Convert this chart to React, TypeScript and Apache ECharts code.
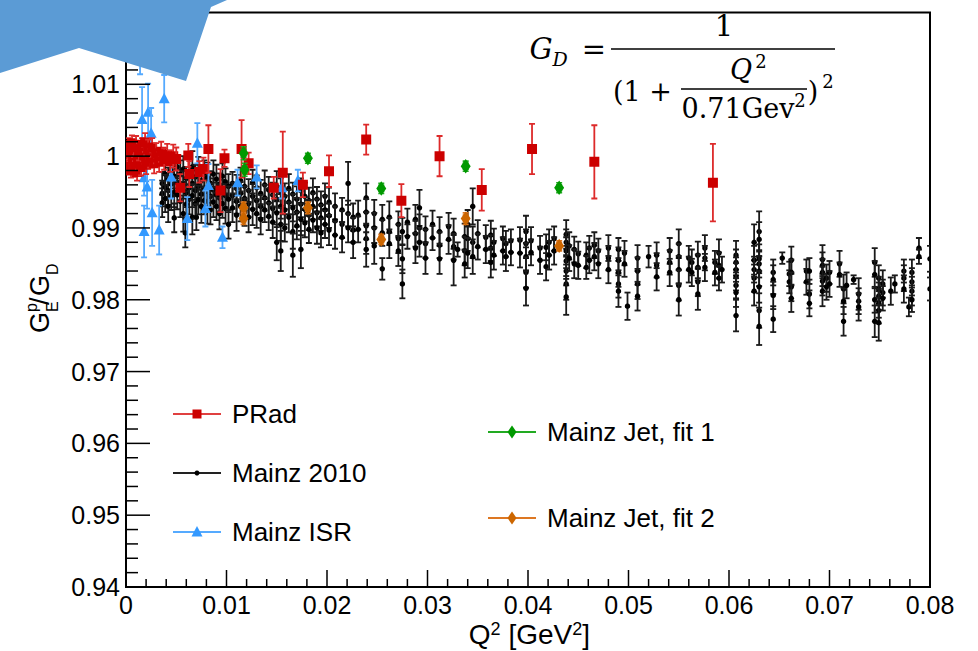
import React, { useEffect, useRef } from "react";
import * as echarts from "echarts";

// [Q2, GE/GD, error]
const pradData: number[][] = [
  [0.0001, 1.0, 0.0009], [0.0002, 1.0015, 0.001], [0.0003, 0.9985, 0.001], [0.0004, 1.0008, 0.0011],
  [0.0005, 0.998, 0.001], [0.0006, 1.0018, 0.0011], [0.0007, 0.9995, 0.001], [0.0008, 1.001, 0.0011],
  [0.0009, 0.9982, 0.0011], [0.001, 1.0016, 0.0012], [0.0011, 0.9978, 0.0012], [0.0012, 0.9992, 0.0011],
  [0.0013, 1.0006, 0.0012], [0.0015, 0.9985, 0.0012], [0.0016, 1.0013, 0.0012], [0.0018, 1.0001, 0.0012],
  [0.0019, 1.0019, 0.0013], [0.002, 0.9988, 0.0013], [0.0022, 1.001, 0.0013], [0.0024, 0.9997, 0.0013],
  [0.0026, 1.0012, 0.0013], [0.0028, 0.999, 0.0014], [0.003, 1.0004, 0.0014], [0.0033, 0.9992, 0.0014],
  [0.0035, 1.0006, 0.0014], [0.0038, 0.9996, 0.0015], [0.0041, 1.0002, 0.0015], [0.0044, 0.9993, 0.0015],
  [0.0047, 1.0, 0.0016], [0.005, 0.9996, 0.0016],
  [0.0054, 0.9956, 0.0019], [0.0062, 1.0001, 0.0016], [0.0063, 0.9975, 0.0018], [0.0073, 0.9978, 0.0015],
  [0.0077, 0.9982, 0.0016], [0.0082, 1.001, 0.0033], [0.0094, 0.9952, 0.003], [0.0098, 0.9997, 0.0012],
  [0.0115, 1.001, 0.004], [0.0122, 0.999, 0.0015], [0.0147, 0.9956, 0.0015], [0.0156, 0.9977, 0.0057],
  [0.0176, 0.996, 0.0017], [0.0202, 0.9979, 0.0022], [0.0239, 1.0023, 0.0021], [0.0274, 0.9938, 0.0023],
  [0.0312, 1.0, 0.0028], [0.0354, 0.9953, 0.0029], [0.0404, 1.001, 0.0035], [0.0466, 0.9992, 0.0051],
  [0.0584, 0.9963, 0.0054],
];

const isrData: number[][] = [
  [0.0014, 1.0146, 0.0032], [0.0016, 1.0051, 0.0045], [0.0022, 1.0061, 0.004], [0.0025, 1.0032, 0.0035],
  [0.0038, 1.008, 0.0033], [0.0018, 0.997, 0.0025], [0.0021, 0.9957, 0.003], [0.0018, 0.9895, 0.0036],
  [0.0026, 0.9921, 0.0046], [0.0033, 0.9897, 0.0034], [0.0045, 0.9971, 0.003], [0.0061, 0.9913, 0.003],
  [0.0071, 1.0018, 0.0028], [0.0079, 0.9927, 0.0025], [0.0082, 0.9959, 0.003], [0.0096, 0.9887, 0.0015],
  [0.0111, 0.9963, 0.0018], [0.013, 0.9971, 0.0016], [0.0155, 0.9956, 0.0015], [0.0171, 0.9966, 0.0015],
];

const jetFit1Data: number[][] = [
  [0.0117, 1.0004, 0.0009], [0.0118, 0.9981, 0.0009], [0.0181, 0.9997, 0.0007],
  [0.0254, 0.9955, 0.0007], [0.0338, 0.9986, 0.0007], [0.0431, 0.9956, 0.0007],
];

const jetFit2Data: number[][] = [
  [0.0117, 0.9928, 0.0008], [0.0117, 0.9913, 0.0008], [0.0181, 0.9928, 0.0008],
  [0.0254, 0.9884, 0.0007], [0.0338, 0.9913, 0.0008], [0.0431, 0.9875, 0.0007],
];

const mainz2010Data: number[][] = [
  [0.0036, 0.9962, 0.0016], [0.0036, 0.9948, 0.0018], [0.0036, 0.9935, 0.002],
  [0.0039, 0.9975, 0.0015], [0.0039, 0.9957, 0.0017], [0.0039, 0.9941, 0.0019],
  [0.0042, 0.9968, 0.0016], [0.0042, 0.9952, 0.002], [0.0042, 0.993, 0.0022],
  [0.0045, 0.998, 0.0018], [0.0045, 0.9961, 0.0016], [0.0045, 0.9944, 0.0019],
  [0.0048, 0.9972, 0.0017], [0.0048, 0.995, 0.0021], [0.0048, 0.9914, 0.002],
  [0.0051, 0.9985, 0.0016], [0.0051, 0.9963, 0.0018], [0.0051, 0.9946, 0.002],
  [0.0054, 0.9975, 0.0019], [0.0054, 0.9955, 0.0017], [0.0054, 0.9937, 0.0022],
  [0.0057, 0.9982, 0.0018], [0.0057, 0.996, 0.0019], [0.0057, 0.992, 0.0025],
  [0.0059, 0.9893, 0.002],
  [0.006, 0.9969, 0.0016], [0.006, 0.9949, 0.002], [0.006, 0.9933, 0.0018],
  [0.0063, 0.9978, 0.002], [0.0063, 0.9956, 0.0017], [0.0063, 0.994, 0.0021],
  [0.0066, 0.9985, 0.0022], [0.0066, 0.9962, 0.0018], [0.0066, 0.9945, 0.0016], [0.0066, 0.9915, 0.0024],
  [0.0069, 0.9971, 0.0017], [0.0069, 0.9952, 0.0019], [0.0069, 0.9934, 0.0021],
  [0.007, 0.9915, 0.0018],
  [0.0072, 0.998, 0.0019], [0.0072, 0.9958, 0.0016], [0.0072, 0.9939, 0.002],
  [0.0075, 0.9966, 0.002], [0.0075, 0.9947, 0.0018], [0.0075, 0.993, 0.0023],
  [0.0078, 0.9976, 0.0018], [0.0078, 0.9955, 0.0017], [0.0078, 0.9938, 0.0019],
  [0.0081, 0.997, 0.0021], [0.0081, 0.9951, 0.0016], [0.0081, 0.9928, 0.0022],
  [0.0084, 0.9962, 0.0017], [0.0084, 0.9944, 0.0018], [0.0084, 0.9925, 0.002],
  [0.0087, 0.9975, 0.0019], [0.0087, 0.9953, 0.0016], [0.0087, 0.9936, 0.0021],
  [0.009, 0.9968, 0.002], [0.009, 0.9946, 0.0017], [0.009, 0.993, 0.0019],
  [0.0093, 0.996, 0.0016], [0.0093, 0.9942, 0.0019], [0.0093, 0.992, 0.0022],
  [0.0096, 0.9972, 0.0018], [0.0096, 0.995, 0.0017], [0.0096, 0.9934, 0.002],
  [0.0099, 0.9964, 0.0019], [0.0099, 0.9945, 0.0016], [0.0099, 0.9927, 0.0021],
  [0.0102, 0.9958, 0.0017], [0.0102, 0.994, 0.0018], [0.0102, 0.9905, 0.002],
  [0.0106, 0.9962, 0.0016], [0.0106, 0.9945, 0.0018], [0.0106, 0.9928, 0.002],
  [0.011, 0.9955, 0.0019], [0.011, 0.9937, 0.0017], [0.011, 0.9918, 0.0022],
  [0.0114, 0.9966, 0.0018], [0.0114, 0.9948, 0.0016], [0.0114, 0.993, 0.0021],
  [0.0118, 0.9958, 0.002], [0.0118, 0.9941, 0.0017], [0.0118, 0.9922, 0.0019],
  [0.0122, 0.9952, 0.0016], [0.0122, 0.9934, 0.0019], [0.0122, 0.9915, 0.0021],
  [0.0126, 0.9963, 0.0018], [0.0126, 0.9944, 0.0017], [0.0126, 0.9926, 0.0022],
  [0.013, 0.9956, 0.0017], [0.013, 0.9938, 0.0019], [0.013, 0.992, 0.002],
  [0.0134, 0.9948, 0.0019], [0.0134, 0.993, 0.0016], [0.0134, 0.9912, 0.0021],
  [0.0138, 0.996, 0.002], [0.0138, 0.9942, 0.0018], [0.0138, 0.9925, 0.0017],
  [0.0142, 0.9953, 0.0018], [0.0142, 0.9935, 0.002], [0.0142, 0.9916, 0.0019],
  [0.0146, 0.9946, 0.0017], [0.0146, 0.9927, 0.0019], [0.0146, 0.9908, 0.0022],
  [0.015, 0.9958, 0.0021], [0.015, 0.994, 0.0018], [0.015, 0.9921, 0.002], [0.015, 0.988, 0.0025],
  [0.0154, 0.995, 0.0019], [0.0154, 0.993, 0.0017], [0.0154, 0.9905, 0.0023], [0.0154, 0.9868, 0.0028],
  [0.0158, 0.9944, 0.0018], [0.0158, 0.9925, 0.002], [0.0158, 0.99, 0.0019],
  [0.0162, 0.9955, 0.002], [0.0162, 0.9936, 0.0017], [0.0162, 0.9915, 0.0021],
  [0.0166, 0.9947, 0.0016], [0.0166, 0.9928, 0.0019], [0.0166, 0.9895, 0.0024], [0.0166, 0.9862, 0.003],
  [0.017, 0.994, 0.0018], [0.017, 0.9922, 0.002], [0.017, 0.9903, 0.0019],
  [0.0174, 0.9952, 0.0017], [0.0174, 0.9933, 0.0018], [0.0174, 0.9912, 0.0022], [0.0174, 0.987, 0.0026],
  [0.0178, 0.9944, 0.0019], [0.0178, 0.9926, 0.0017], [0.0178, 0.9907, 0.002],
  [0.0182, 0.9938, 0.0018], [0.0182, 0.9918, 0.0021], [0.0182, 0.9898, 0.0019],
  [0.0186, 0.9949, 0.002], [0.0186, 0.993, 0.0018], [0.0186, 0.9911, 0.0017],
  [0.019, 0.994, 0.0017], [0.019, 0.9921, 0.0019], [0.019, 0.99, 0.0022],
  [0.0194, 0.9932, 0.0019], [0.0194, 0.9914, 0.0018], [0.0194, 0.9893, 0.002],
  [0.0198, 0.9944, 0.0018], [0.0198, 0.9925, 0.002], [0.0198, 0.9905, 0.0019],
  [0.0202, 0.9936, 0.002], [0.0202, 0.9917, 0.0017], [0.0202, 0.9897, 0.0021],
  [0.0208, 0.993, 0.0018], [0.0208, 0.991, 0.002], [0.0208, 0.989, 0.0019],
  [0.0215, 0.9925, 0.0017], [0.0215, 0.9905, 0.0019], [0.0215, 0.9887, 0.0021],
  [0.0221, 0.9962, 0.003], [0.0221, 0.992, 0.0018], [0.0221, 0.99, 0.002],
  [0.0226, 0.9915, 0.0019], [0.0226, 0.9897, 0.0017], [0.0226, 0.988, 0.0022],
  [0.0231, 0.9918, 0.002], [0.0231, 0.9898, 0.0018],
  [0.0239, 0.9942, 0.002], [0.0239, 0.9922, 0.0018], [0.0239, 0.9903, 0.0019], [0.0239, 0.9885, 0.0021], [0.0239, 0.987, 0.0024],
  [0.0247, 0.992, 0.0019], [0.0247, 0.99, 0.0021], [0.0247, 0.9875, 0.0025],
  [0.0255, 0.9912, 0.002], [0.0255, 0.9893, 0.0018], [0.0255, 0.9843, 0.0015],
  [0.0262, 0.9915, 0.0022], [0.0262, 0.9895, 0.0019], [0.0262, 0.9878, 0.002],
  [0.0271, 0.9905, 0.0018], [0.0271, 0.9885, 0.002], [0.0271, 0.9868, 0.0021],
  [0.0275, 0.9895, 0.0019], [0.0275, 0.9857, 0.002], [0.0275, 0.9822, 0.002],
  [0.028, 0.9908, 0.0019], [0.028, 0.9888, 0.0017],
  [0.0288, 0.9912, 0.002], [0.0288, 0.9892, 0.0018], [0.0288, 0.9872, 0.0021],
  [0.0292, 0.9928, 0.0025], [0.0292, 0.99, 0.0019], [0.0292, 0.988, 0.002],
  [0.0298, 0.9898, 0.0018], [0.0298, 0.9878, 0.002], [0.0298, 0.9858, 0.0022],
  [0.0305, 0.9905, 0.0019], [0.0305, 0.9886, 0.0017],
  [0.0312, 0.9895, 0.002], [0.0312, 0.9876, 0.0018], [0.0312, 0.9857, 0.0021],
  [0.0321, 0.9902, 0.0019], [0.0321, 0.9884, 0.002],
  [0.0326, 0.9892, 0.0021], [0.0326, 0.9874, 0.0018], [0.0326, 0.9855, 0.0035],
  [0.033, 0.987, 0.001],
  [0.0337, 0.9888, 0.0018], [0.0337, 0.9868, 0.002], [0.0337, 0.985, 0.0019],
  [0.034, 0.9905, 0.002], [0.034, 0.9885, 0.0017], [0.034, 0.9865, 0.0021],
  [0.0345, 0.993, 0.0025], [0.0345, 0.988, 0.0022], [0.0345, 0.986, 0.0024],
  [0.035, 0.9892, 0.0019], [0.035, 0.9874, 0.0018],
  [0.0358, 0.9887, 0.0017], [0.0358, 0.987, 0.0019],
  [0.0363, 0.989, 0.002], [0.0363, 0.9872, 0.0018], [0.0363, 0.9852, 0.0021],
  [0.0366, 0.988, 0.0019], [0.0366, 0.9862, 0.002],
  [0.0375, 0.9885, 0.0017], [0.0375, 0.9868, 0.0019],
  [0.0378, 0.9878, 0.0018], [0.0378, 0.986, 0.002],
  [0.0383, 0.9882, 0.0016], [0.0383, 0.9866, 0.0018],
  [0.0392, 0.9883, 0.0018], [0.0392, 0.9865, 0.002],
  [0.0398, 0.9895, 0.0022], [0.0398, 0.9878, 0.002], [0.0398, 0.986, 0.0019], [0.0398, 0.9838, 0.0021], [0.0398, 0.9816, 0.0024],
  [0.0403, 0.9882, 0.0019], [0.0403, 0.9866, 0.0018],
  [0.0412, 0.9872, 0.0017], [0.0412, 0.9855, 0.0019],
  [0.0418, 0.9873, 0.0018], [0.0418, 0.9846, 0.0019],
  [0.0421, 0.988, 0.0018], [0.0421, 0.9862, 0.002],
  [0.0426, 0.9885, 0.0017], [0.0426, 0.9868, 0.0019],
  [0.0438, 0.9891, 0.002], [0.0438, 0.988, 0.0018], [0.0438, 0.9868, 0.0019], [0.0438, 0.9854, 0.0021],
  [0.0438, 0.984, 0.002], [0.0438, 0.9822, 0.0022], [0.0438, 0.9804, 0.0025],
  [0.0441, 0.9875, 0.0019], [0.0441, 0.9858, 0.0018],
  [0.0446, 0.987, 0.0018], [0.0446, 0.985, 0.002],
  [0.045, 0.9864, 0.0017], [0.045, 0.9848, 0.0019],
  [0.0458, 0.9862, 0.0018], [0.0458, 0.9845, 0.0016],
  [0.0461, 0.9872, 0.0017], [0.0461, 0.9855, 0.0018],
  [0.0466, 0.9876, 0.0018], [0.0466, 0.986, 0.0019],
  [0.047, 0.9868, 0.0017], [0.047, 0.985, 0.002],
  [0.048, 0.9872, 0.0018], [0.048, 0.9858, 0.0017], [0.048, 0.9842, 0.0019],
  [0.049, 0.987, 0.0016], [0.049, 0.9855, 0.0018], [0.049, 0.9838, 0.002], [0.049, 0.9822, 0.0019], [0.049, 0.9812, 0.0022],
  [0.0496, 0.9865, 0.0017], [0.0496, 0.985, 0.0018],
  [0.0499, 0.9791, 0.0019],
  [0.0509, 0.9858, 0.0018], [0.0509, 0.984, 0.0019], [0.0509, 0.9822, 0.0021], [0.0509, 0.9805, 0.002],
  [0.052, 0.986, 0.0015],
  [0.0528, 0.9862, 0.0018], [0.0528, 0.9848, 0.0017], [0.0528, 0.9832, 0.0019],
  [0.0541, 0.9868, 0.0018], [0.0541, 0.9852, 0.0017], [0.0541, 0.9838, 0.0019],
  [0.055, 0.9878, 0.002], [0.055, 0.986, 0.0018], [0.055, 0.9842, 0.0019], [0.055, 0.982, 0.0021], [0.055, 0.98, 0.0022],
  [0.056, 0.9858, 0.0017], [0.056, 0.9842, 0.0018],
  [0.0563, 0.9852, 0.0018], [0.0563, 0.9838, 0.0019],
  [0.0569, 0.9862, 0.0019], [0.0569, 0.9845, 0.0018], [0.0569, 0.9825, 0.002], [0.0569, 0.9808, 0.0022],
  [0.0576, 0.9872, 0.0018], [0.0576, 0.9858, 0.0017], [0.0576, 0.9845, 0.0019],
  [0.0586, 0.9852, 0.0016], [0.0586, 0.9838, 0.0018],
  [0.059, 0.9865, 0.0019], [0.059, 0.9848, 0.0018], [0.059, 0.983, 0.0017],
  [0.0593, 0.9842, 0.0018],
  [0.0607, 0.9862, 0.002], [0.0607, 0.9852, 0.0018], [0.0607, 0.9842, 0.0017], [0.0607, 0.9832, 0.0019],
  [0.0607, 0.982, 0.0018], [0.0607, 0.981, 0.002], [0.0607, 0.9778, 0.0022],
  [0.0625, 0.988, 0.0025], [0.0625, 0.9855, 0.002], [0.0625, 0.9842, 0.0018], [0.0625, 0.983, 0.0019], [0.0625, 0.9812, 0.002],
  [0.063, 0.9895, 0.0028], [0.063, 0.9884, 0.0024], [0.063, 0.9857, 0.002], [0.063, 0.985, 0.0019],
  [0.063, 0.984, 0.0021], [0.063, 0.9818, 0.0022], [0.063, 0.9785, 0.0024], [0.063, 0.9763, 0.0026],
  [0.0644, 0.9838, 0.0018], [0.0644, 0.9828, 0.002], [0.0644, 0.9806, 0.0019], [0.0644, 0.9773, 0.0018],
  [0.0653, 0.9858, 0.0008],
  [0.066, 0.9836, 0.0017], [0.066, 0.9825, 0.0016],
  [0.0662, 0.9855, 0.0019], [0.0662, 0.9838, 0.0018], [0.0662, 0.9818, 0.002], [0.0662, 0.9802, 0.0019],
  [0.0677, 0.984, 0.0016], [0.0677, 0.9825, 0.0018],
  [0.068, 0.984, 0.0018], [0.068, 0.9808, 0.002], [0.068, 0.9795, 0.0018],
  [0.0693, 0.9856, 0.002], [0.0693, 0.9848, 0.0018], [0.0693, 0.9838, 0.0019], [0.0693, 0.9826, 0.002], [0.0693, 0.9812, 0.0021],
  [0.0697, 0.983, 0.0019], [0.0697, 0.9818, 0.0018],
  [0.07, 0.9838, 0.0016], [0.07, 0.9822, 0.0018],
  [0.071, 0.985, 0.0018], [0.071, 0.9835, 0.0017],
  [0.0714, 0.9815, 0.002], [0.0714, 0.9798, 0.0018], [0.0714, 0.977, 0.002],
  [0.0717, 0.982, 0.0018],
  [0.0724, 0.9828, 0.0006],
  [0.0729, 0.9808, 0.0022], [0.0729, 0.9798, 0.0018], [0.0729, 0.979, 0.0019],
  [0.0745, 0.9852, 0.002], [0.0745, 0.9835, 0.0019], [0.0745, 0.98, 0.0018], [0.0745, 0.977, 0.0022],
  [0.0749, 0.983, 0.0018], [0.0749, 0.9815, 0.0017], [0.0749, 0.9805, 0.0019], [0.0749, 0.9795, 0.002],
  [0.0749, 0.9785, 0.0018], [0.0749, 0.9768, 0.0025],
  [0.0753, 0.9822, 0.0019], [0.0753, 0.981, 0.0018], [0.0753, 0.9802, 0.0017],
  [0.0761, 0.9812, 0.0019],
  [0.0765, 0.9822, 0.0012],
  [0.0774, 0.984, 0.0016], [0.0774, 0.983, 0.0018], [0.0774, 0.9815, 0.0019],
  [0.0779, 0.979, 0.0013],
  [0.0782, 0.9838, 0.0018], [0.0782, 0.9825, 0.0019], [0.0782, 0.9812, 0.002], [0.0782, 0.98, 0.0017],
  [0.0789, 0.9872, 0.0014], [0.0789, 0.986, 0.001],
  [0.08, 0.9857, 0.0018], [0.08, 0.9815, 0.0016],
];

const xMajorTicks = [0, 0.01, 0.02, 0.03, 0.04, 0.05, 0.06, 0.07, 0.08];
const yMajorTicks = [0.94, 0.95, 0.96, 0.97, 0.98, 0.99, 1.0, 1.01, 1.02];

const legendLeft = ["PRad", "Mainz 2010", "Mainz ISR"];
const legendRight = ["Mainz Jet, fit 1", "Mainz Jet, fit 2"];

const SANS = "'Liberation Sans', Arial, Helvetica, sans-serif";
const SERIF = "'DejaVu Serif', 'Liberation Serif', serif";

type Kind = "square" | "circle" | "triangle" | "diamond";

function markerShape(kind: Kind, cx: number, cy: number, s: number, fill: string): any {
  if (kind === "square") {
    return { type: "rect", shape: { x: cx - s / 2, y: cy - s / 2, width: s, height: s }, style: { fill } };
  }
  if (kind === "circle") {
    return { type: "circle", shape: { cx, cy, r: s / 2 }, style: { fill } };
  }
  if (kind === "triangle") {
    return {
      type: "polygon",
      shape: { points: [[cx, cy - s * 0.6], [cx + s * 0.55, cy + s * 0.45], [cx - s * 0.55, cy + s * 0.45]] },
      style: { fill },
    };
  }
  return {
    type: "polygon",
    shape: { points: [[cx, cy - s * 0.72], [cx + s * 0.5, cy], [cx, cy + s * 0.72], [cx - s * 0.5, cy]] },
    style: { fill },
  };
}

function errSeries(name: string, data: number[][], kind: Kind, color: string, barColor: string, size: number, cap: number, lw: number, inner: boolean, z: number): any {
  return {
    type: "custom",
    name,
    data,
    clip: true,
    z,
    silent: true,
    encode: { x: 0, y: 1 },
    renderItem: (_params: any, api: any) => {
      const x = api.value(0);
      const y = api.value(1);
      const e = api.value(2);
      const c = api.coord([x, y]);
      const top = api.coord([x, y + e])[1];
      const bot = api.coord([x, y - e])[1];
      const st = { stroke: barColor, lineWidth: lw };
      const children: any[] = [
        { type: "line", shape: { x1: c[0], y1: top, x2: c[0], y2: bot }, style: st },
        { type: "line", shape: { x1: c[0] - cap, y1: top, x2: c[0] + cap, y2: top }, style: st },
        { type: "line", shape: { x1: c[0] - cap, y1: bot, x2: c[0] + cap, y2: bot }, style: st },
      ];
      if (inner) {
        const t2 = api.coord([x, y + e * 0.6])[1];
        const b2 = api.coord([x, y - e * 0.6])[1];
        children.push({ type: "line", shape: { x1: c[0] - cap, y1: t2, x2: c[0] + cap, y2: t2 }, style: st });
        children.push({ type: "line", shape: { x1: c[0] - cap, y1: b2, x2: c[0] + cap, y2: b2 }, style: st });
      }
      children.push(markerShape(kind, c[0], c[1], size, color));
      return { type: "group", children };
    },
  };
}

// axis ticks drawn through the axis scales (inside, ROOT style)
const tickSeries: any = {
  type: "custom",
  name: "ticks",
  data: [[0, 0.94]],
  clip: false,
  silent: true,
  z: 10,
  encode: { x: 0, y: 1 },
  renderItem: (_p: any, api: any) => {
    const st = { stroke: "#000", lineWidth: 1.5 };
    const ch: any[] = [];
    const y0 = yMajorTicks[0];
    const x0 = xMajorTicks[0];
    xMajorTicks.forEach((v, i) => {
      const p = api.coord([v, y0]);
      ch.push({ type: "line", shape: { x1: p[0], y1: p[1], x2: p[0], y2: p[1] - 17 }, style: st });
      if (i < xMajorTicks.length - 1) {
        const nx = xMajorTicks[i + 1];
        for (let k = 1; k < 5; k++) {
          const q = api.coord([v + ((nx - v) * k) / 5, y0]);
          ch.push({ type: "line", shape: { x1: q[0], y1: q[1], x2: q[0], y2: q[1] - 8 }, style: st });
        }
      }
    });
    yMajorTicks.forEach((v, i) => {
      const p = api.coord([x0, v]);
      ch.push({ type: "line", shape: { x1: p[0], y1: p[1], x2: p[0] + 24, y2: p[1] }, style: st });
      if (i < yMajorTicks.length - 1) {
        const ny = yMajorTicks[i + 1];
        for (let k = 1; k < 5; k++) {
          const q = api.coord([x0, v + ((ny - v) * k) / 5]);
          ch.push({ type: "line", shape: { x1: q[0], y1: q[1], x2: q[0] + 12, y2: q[1] }, style: st });
        }
      }
    });
    return { type: "group", children: ch };
  },
};

function legendItem(x: number, y: number, label: string, kind: Kind, color: string, lineColor: string, size: number): any[] {
  return [
    { type: "line", shape: { x1: x, y1: y, x2: x + 48, y2: y }, style: { stroke: lineColor, lineWidth: 2 }, z: 50 },
    { ...markerShape(kind, x + 24, y, size, color), z: 51 },
    {
      type: "text", x: x + 59, y, z: 51,
      style: { text: label, font: `26px ${SANS}`, fill: "#000", textVerticalAlign: "middle", textAlign: "left" },
    },
  ];
}

function t(text: string, x: number, y: number, size: number, opts: any = {}): any {
  return {
    type: "text", x, y, z: 60,
    style: {
      text,
      font: `${opts.italic ? "italic " : ""}${size}px ${opts.family || SERIF}`,
      fill: "#000",
      textAlign: opts.align || "center",
      textVerticalAlign: "middle",
    },
  };
}

function s(text: string, x: number, y: number, size: number): any {
  return { type: "text", x, y, style: { text, font: `${size}px ${SANS}`, fill: "#000", textVerticalAlign: "middle", textAlign: "left" } };
}

export default function App() {
  const ref = useRef<HTMLDivElement>(null);
  useEffect(() => {
    document.body.style.margin = "0";
    const chart = echarts.init(ref.current!, null, { renderer: "svg" });
    const fmt = (v: number) => String(parseFloat(v.toFixed(3)));
    const graphic: any[] = [
      ...legendItem(173, 414, legendLeft[0], "square", "#cc0000", "#e04040", 9),
      ...legendItem(173, 473, legendLeft[1], "circle", "#000", "#222", 5),
      ...legendItem(173, 532, legendLeft[2], "triangle", "#3399ff", "#55aaff", 10),
      ...legendItem(488, 432, legendRight[0], "diamond", "#009900", "#22aa22", 9),
      ...legendItem(488, 518, legendRight[1], "diamond", "#cc6600", "#dd7722", 9),
      // x axis title
      {
        type: "text", x: 590, y: 634, z: 60,
        style: {
          text: "Q{s|2} [GeV{s|2}]",
          font: `28px ${SANS}`,
          lineHeight: 28,
          fill: "#000",
          textAlign: "right",
          textVerticalAlign: "middle",
          rich: { s: { fontSize: 18, fontFamily: SANS, lineHeight: 18, verticalAlign: "top" } },
        },
      },
      // y axis title (rotated, reads bottom to top)
      {
        type: "group", x: 40, y: 333, rotation: Math.PI / 2, z: 60,
        children: [
          s("G", 0, 0, 27),
          s("p", 21, -9, 16),
          s("E", 21, 12, 16),
          s("/", 28, 0, 27),
          s("G", 37, 0, 27),
          s("D", 58, 12, 16),
        ],
      },
      // formula
      t("G", 541, 49, 29, { italic: true }),
      t("D", 560, 59, 19, { italic: true }),
      t("=", 594, 49, 29),
      { type: "line", shape: { x1: 611, y1: 49, x2: 835, y2: 49 }, style: { stroke: "#000", lineWidth: 1.6 }, z: 60 },
      t("1", 724, 26, 29),
      t("(1 +", 613, 91, 27, { align: "left" }),
      t("Q", 741, 69, 27, { italic: true }),
      t("2", 761, 61, 18),
      { type: "line", shape: { x1: 681, y1: 89, x2: 807, y2: 89 }, style: { stroke: "#000", lineWidth: 1.6 }, z: 60 },
      t("0.71Gev", 738, 108, 27),
      t("2", 800, 100, 18),
      t(")", 813, 91, 27),
      t("2", 828, 81, 18),
      // decorative shape top-left
      {
        type: "polygon", z: 100,
        shape: { points: [[0, 0], [227, 0], [211, 7], [186, 81], [79, 48], [0, 73]] },
        style: { fill: "#5b9bd5" },
      },
    ];
    chart.setOption({
      animation: false,
      grid: { left: 126, top: 7, width: 804, height: 580, show: true, borderColor: "#000", borderWidth: 2, backgroundColor: "transparent" },
      xAxis: {
        type: "value", min: 0, max: 0.08, interval: 0.01,
        axisLine: { show: true, onZero: false, lineStyle: { color: "#000", width: 2 } },
        axisTick: { show: false },
        minorTick: { show: false },
        splitLine: { show: false },
        axisLabel: { fontSize: 25, fontFamily: SANS, color: "#000", margin: 5, formatter: fmt },
      },
      yAxis: {
        type: "value", min: 0.94, max: 1.02, interval: 0.01,
        axisLine: { show: true, onZero: false, lineStyle: { color: "#000", width: 2 } },
        axisTick: { show: false },
        minorTick: { show: false },
        splitLine: { show: false },
        axisLabel: { fontSize: 25, fontFamily: SANS, color: "#000", margin: 6, formatter: fmt },
      },
      series: [
        tickSeries,
        errSeries("Mainz 2010", mainz2010Data, "circle", "#000", "#1a1a1a", 5.5, 3, 1.8, false, 2),
        errSeries("Mainz ISR", isrData, "triangle", "#3399ff", "#55aaff", 10, 3, 1.8, false, 3),
        errSeries("PRad", pradData, "square", "#cc0000", "#dd2a2a", 10, 3, 1.8, false, 4),
        errSeries("Mainz Jet, fit 1", jetFit1Data, "diamond", "#009900", "#22aa22", 10, 3, 1.6, true, 5),
        errSeries("Mainz Jet, fit 2", jetFit2Data, "diamond", "#cc6600", "#dd7722", 10, 3, 1.6, true, 5),
      ],
      graphic,
    });
    return () => chart.dispose();
  }, []);
  return <div ref={ref} style={{ width: 978, height: 651 }} />;
}
